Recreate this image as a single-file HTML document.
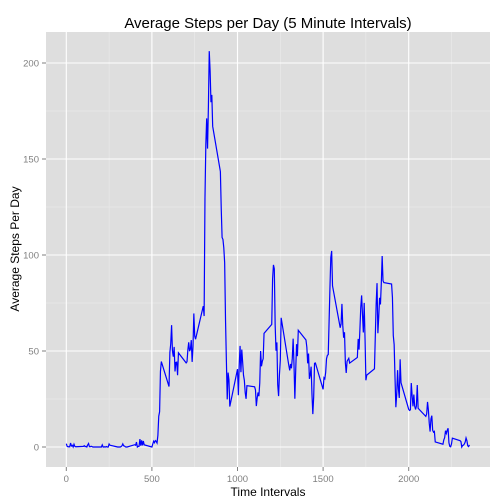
<!DOCTYPE html>
<html><head><meta charset="utf-8"><style>
body{margin:0;background:#fff;}
svg{display:block;font-family:"Liberation Sans",sans-serif;}
</style></head><body>
<svg id="chart" width="504" height="504">
<rect x="46" y="32" width="444" height="435" fill="#DEDEDE"/>
<g id="grid"></g>
<path id="line" fill="none" stroke="#0000FF" stroke-width="1.2"/>
<g id="axes"></g>
<text x="268" y="28" text-anchor="middle" font-size="15">Average Steps per Day (5 Minute Intervals)</text>
<text x="268" y="496" text-anchor="middle" font-size="12">Time Intervals</text>
<text transform="translate(19,249) rotate(-90)" text-anchor="middle" font-size="12">Average Steps Per Day</text>
</svg>
<script>
const steps = [1.72,0.34,0.13,0.15,0.08,2.09,0.53,0.87,0,1.47,0.3,0.13,0.32,0.68,0.15,0.34,0,1.11,1.83,0.17,0.17,0.38,0.26,0,0,0,1.13,0,0,0.13,0,0.23,0,0,1.55,0.94,0,0,0,0,0.21,0.62,1.62,0.58,0.49,0.08,0,0,1.19,0.94,2.57,0,0.34,0.36,4.11,0.66,3.49,0.83,3.11,1.11,0,1.57,3,2.25,3.32,2.96,2.09,6.06,16.02,18.34,39.45,44.49,31.49,49.26,53.77,63.45,49.96,47.08,52.15,39.34,44.02,44.17,37.36,49.04,43.81,44.38,50.51,54.51,49.92,50.98,55.68,44.32,52.26,69.55,57.85,56.15,73.38,68.21,129.43,157.53,171.15,155.4,177.3,206.17,195.92,179.57,183.4,167.02,143.45,124.04,109.11,108.11,103.72,95.97,66.21,45.23,24.79,38.75,34.98,21.06,40.57,26.98,42.42,52.66,38.92,50.79,44.28,37.42,34.7,28.34,25.09,31.94,31.36,29.68,21.32,25.55,28.38,26.47,33.43,49.98,42.04,44.6,46.03,59.19,63.87,87.7,94.85,92.77,63.4,50.17,54.47,32.42,26.53,37.74,45.05,67.28,42.34,39.89,43.26,40.98,46.25,56.43,42.75,25.13,39.96,53.55,47.32,60.81,55.75,51.96,43.58,48.7,35.47,37.55,41.85,27.51,17.11,26.08,43.62,43.77,30.02,36.08,35.49,38.85,45.96,47.75,48.13,65.32,82.91,98.66,102.11,83.96,62.13,64.13,74.55,63.17,56.91,59.77,43.87,38.57,44.66,45.45,46.21,43.68,46.62,56.3,50.72,61.23,72.72,78.94,68.94,59.66,75.09,56.51,34.77,37.45,40.68,58.02,74.7,85.32,59.26,67.77,77.7,74.25,85.34,99.45,86.58,85.6,84.87,77.83,58.04,53.36,36.32,20.72,27.4,40.02,30.21,25.55,45.66,33.53,19.62,19.02,19.34,33.34,26.81,21.17,27.3,21.34,19.55,21.32,32.3,20.15,15.94,17.23,23.45,19.25,12.45,8.02,14.66,16.3,8.68,7.79,8.13,2.62,1.45,3.68,4.81,8.51,7.08,8.7,9.75,2.21,0.32,0.11,1.6,4.6,3.3,2.85,0,0.83,0.96,1.58,2.6,4.7,3.3,0.64,0.23,1.08];
const intervals = steps.map((_, i) => Math.floor(i / 12) * 100 + (i % 12) * 5);
const xTicks = [0, 500, 1000, 1500, 2000];
const yTicks = [0, 50, 100, 150, 200];
const xMinor = [250, 750, 1250, 1750, 2250];
const yMinor = [25, 75, 125, 175];

const X = v => 66.3 + v * 0.1712;
const Y = v => 447 - v * 1.92;
const NS = 'http://www.w3.org/2000/svg';
const grid = document.getElementById('grid');
const axes = document.getElementById('axes');
function mk(tag, attrs, parent) {
  const e = document.createElementNS(NS, tag);
  for (const k in attrs) e.setAttribute(k, attrs[k]);
  parent.appendChild(e);
  return e;
}
xMinor.forEach(v => {
  const l = mk('line', {x1: X(v), x2: X(v), y1: 32, y2: 467, stroke: '#EBEBEB', 'stroke-width': 0.6}, grid);
  
  
});
yMinor.forEach(v => {
  const l = mk('line', {x1: 46, x2: 490, y1: Y(v), y2: Y(v), stroke: '#EBEBEB', 'stroke-width': 0.6}, grid);
  
  
});
xTicks.forEach(v => {
  const l = mk('line', {x1: X(v), x2: X(v), y1: 32, y2: 467, stroke: '#fff', 'stroke-width': 1.1}, grid);
  
  
  const t = mk('line', {x1: X(v), x2: X(v), y1: 467, y2: 471, stroke: '#7F7F7F', 'stroke-width': 1}, axes);
  
  
  const tx = mk('text', {x: X(v), y: 482, 'text-anchor': 'middle', 'font-size': 9.5, fill: '#7F7F7F'}, axes);
  tx.textContent = v;
  
  
});
yTicks.forEach(v => {
  const l = mk('line', {x1: 46, x2: 490, y1: Y(v), y2: Y(v), stroke: '#fff', 'stroke-width': 1.1}, grid);
  
  
  const t = mk('line', {x1: 42, x2: 46, y1: Y(v), y2: Y(v), stroke: '#7F7F7F', 'stroke-width': 1}, axes);
  
  
  const tx = mk('text', {x: 39, y: Y(v) + 3.5, 'text-anchor': 'end', 'font-size': 9.5, fill: '#7F7F7F'}, axes);
  tx.textContent = v;
  
  
});
document.getElementById('line').setAttribute('d',
  steps.map((s, i) => (i ? 'L' : 'M') + X(intervals[i]).toFixed(2) + ',' + Y(s).toFixed(2)).join(''));
</script>
</body></html>
